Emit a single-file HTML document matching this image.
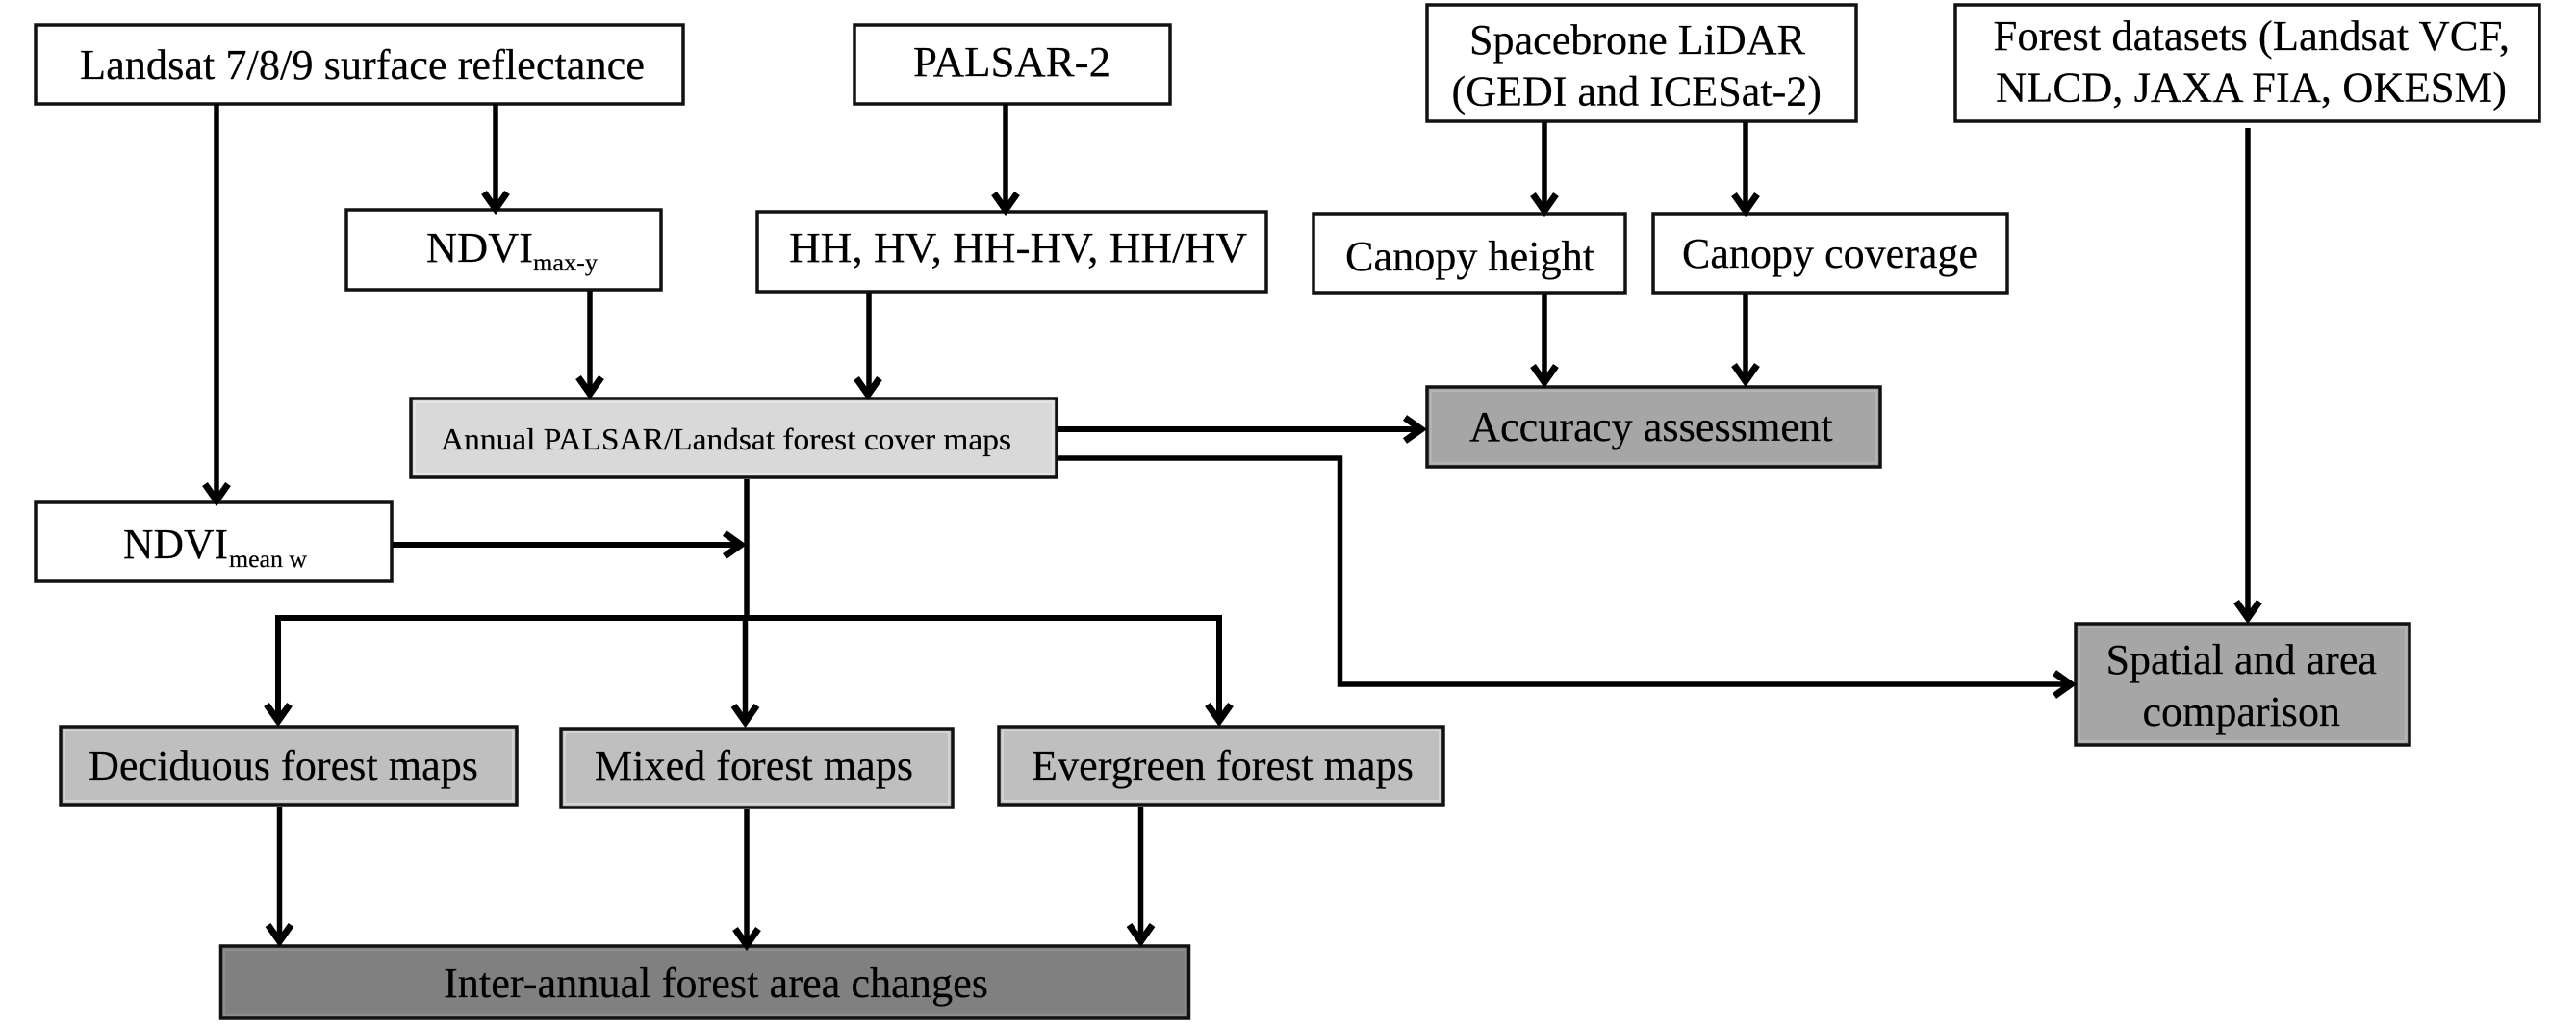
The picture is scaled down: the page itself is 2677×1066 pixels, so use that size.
<!DOCTYPE html>
<html><head><meta charset="utf-8"><title>Forest mapping workflow</title>
<style>
html,body{margin:0;padding:0;background:#fff;width:2677px;height:1066px;overflow:hidden}
svg{display:block}
text{font-family:"Liberation Serif",serif;fill:#000;font-size:44px;stroke:#000;stroke-width:.2}
.b{stroke:#111;stroke-width:3.5;fill:#fff}
.r{fill:none;stroke:#e8e8e8;stroke-width:1.5}
.l{stroke:#000;stroke-width:5.5;fill:none}
.t{stroke:#000;stroke-width:6;fill:none}
.a{stroke:#000;stroke-width:7;fill:none;stroke-linejoin:miter}
</style></head><body>
<svg width="2677" height="1066" viewBox="0 0 2677 1066" xmlns="http://www.w3.org/2000/svg">
<rect width="2677" height="1066" fill="#fff"/>

<!-- boxes -->
<rect class="b" x="37" y="26" width="673" height="82"/>
<rect class="b" x="888" y="26" width="328" height="82"/>
<rect class="b" x="1483" y="5" width="446" height="121"/>
<rect class="b" x="2032" y="5" width="607" height="121"/>
<rect class="b" x="360" y="218" width="327" height="83"/>
<rect class="b" x="787" y="220" width="529" height="83"/>
<rect class="b" x="1365" y="222" width="324" height="82"/>
<rect class="b" x="1718" y="222" width="368" height="82"/>
<rect class="b" x="37" y="522" width="370" height="82"/>

<rect class="b" x="427" y="414" width="671" height="82" style="fill:#d9d9d9"/>
<rect class="r" x="431" y="418" width="663" height="74"/>
<rect class="b" x="1483" y="402" width="471" height="83" style="fill:#a6a6a6"/>
<rect class="r" x="1487" y="406" width="463" height="75" style="stroke:#b8b8b8"/>
<rect class="b" x="2157" y="648" width="347" height="126" style="fill:#a6a6a6"/>
<rect class="r" x="2161" y="652" width="339" height="118" style="stroke:#b8b8b8"/>
<rect class="b" x="63" y="755" width="474" height="81" style="fill:#bfbfbf"/>
<rect class="r" x="67" y="759" width="466" height="73" style="stroke:#dcdcdc"/>
<rect class="b" x="583" y="757" width="407" height="82" style="fill:#bfbfbf"/>
<rect class="r" x="587" y="761" width="399" height="74" style="stroke:#dcdcdc"/>
<rect class="b" x="1038" y="755" width="462" height="81" style="fill:#bfbfbf"/>
<rect class="r" x="1042" y="759" width="454" height="73" style="stroke:#dcdcdc"/>
<rect class="b" x="229.500" y="983" width="1006" height="75" style="fill:#808080"/>
<rect class="r" x="233" y="987" width="999" height="68" style="stroke:#929292"/>

<!-- connectors -->
<path class="l" d="M225 108V520"/>
<path class="l" d="M515 108V217"/>
<path class="l" d="M1045 108V218"/>
<path class="l" d="M613 302V409"/>
<path class="l" d="M903 304V410"/>
<path class="l" d="M1605 127V219"/>
<path class="l" d="M1814 127V219"/>
<path class="l" d="M1605 305V397"/>
<path class="l" d="M1814 305V396"/>
<path class="t" d="M1099 446H1477"/>
<path class="l" d="M1099 476H1392.500V711H2152"/>
<path class="l" d="M2336 133V642"/>
<path class="l" d="M776 498V640L774.500 642V750"/>
<path class="t" d="M408 566H770"/>
<path class="t" d="M289 749V642H1267V749"/>
<path class="l" d="M290.500 838V978"/>
<path class="l" d="M776 841V982"/>
<path class="l" d="M1185.500 838V978"/>

<!-- arrowheads -->
<path class="a" d="M213 503L225 520L237 503"/>
<path class="a" d="M503 200L515 217L527 200"/>
<path class="a" d="M1033 201L1045 218L1057 201"/>
<path class="a" d="M601 392L613 409L625 392"/>
<path class="a" d="M890 393L902 410L914 393"/>
<path class="a" d="M1593 202L1605 219L1617 202"/>
<path class="a" d="M1802 202L1814 219L1826 202"/>
<path class="a" d="M1593 380L1605 397L1617 380"/>
<path class="a" d="M1802 379L1814 396L1826 379"/>
<path class="a" d="M1460 434L1477 446L1460 458"/>
<path class="a" d="M2135 699L2152 711L2135 723"/>
<path class="a" d="M2324 625L2336 642L2348 625"/>
<path class="a" d="M753 554L770 566L753 578"/>
<path class="a" d="M277 732L289 749L301 732"/>
<path class="a" d="M762.500 733L774.500 750L786.500 733"/>
<path class="a" d="M1255 732L1267 749L1279 732"/>
<path class="a" d="M278.500 961L290.500 978L302.500 961"/>
<path class="a" d="M764 965L776 982L788 965"/>
<path class="a" d="M1173.500 961L1185.500 978L1197.500 961"/>

<!-- labels -->
<text x="83" y="82" textLength="587" lengthAdjust="spacingAndGlyphs">Landsat 7/8/9 surface reflectance</text>
<text x="949" y="79" textLength="205" lengthAdjust="spacingAndGlyphs">PALSAR-2</text>
<text x="443" y="272" textLength="111" lengthAdjust="spacingAndGlyphs">NDVI</text>
<text x="554" y="281" textLength="67" lengthAdjust="spacingAndGlyphs" style="font-size:25px">max-y</text>
<text x="820" y="272" textLength="476" lengthAdjust="spacingAndGlyphs">HH, HV, HH-HV, HH/HV</text>
<text x="458" y="467" textLength="593" lengthAdjust="spacingAndGlyphs" style="font-size:32px">Annual PALSAR/Landsat forest cover maps</text>
<text x="1527" y="56" textLength="349" lengthAdjust="spacingAndGlyphs">Spacebrone LiDAR</text>
<text x="1508.500" y="109.500" textLength="384.500" lengthAdjust="spacingAndGlyphs">(GEDI and ICESat-2)</text>
<text x="2071.500" y="52" textLength="536.500" lengthAdjust="spacingAndGlyphs">Forest datasets (Landsat VCF,</text>
<text x="2074" y="105.500" textLength="531" lengthAdjust="spacingAndGlyphs">NLCD, JAXA FIA, OKESM)</text>
<text x="1398" y="281" textLength="259" lengthAdjust="spacingAndGlyphs">Canopy height</text>
<text x="1748" y="278" textLength="307" lengthAdjust="spacingAndGlyphs">Canopy coverage</text>
<text x="1527" y="458" textLength="377.500" lengthAdjust="spacingAndGlyphs">Accuracy assessment</text>
<text x="2188.500" y="700" textLength="281.500" lengthAdjust="spacingAndGlyphs">Spatial and area</text>
<text x="2226.500" y="754" textLength="205.500" lengthAdjust="spacingAndGlyphs">comparison</text>
<text x="128" y="580" textLength="109" lengthAdjust="spacingAndGlyphs">NDVI</text>
<text x="238" y="589" textLength="81" lengthAdjust="spacingAndGlyphs" style="font-size:25px">mean w</text>
<text x="92" y="810" textLength="405" lengthAdjust="spacingAndGlyphs">Deciduous forest maps</text>
<text x="618" y="810" textLength="331" lengthAdjust="spacingAndGlyphs">Mixed forest maps</text>
<text x="1072" y="810" textLength="397" lengthAdjust="spacingAndGlyphs">Evergreen forest maps</text>
<text x="461" y="1036" textLength="566" lengthAdjust="spacingAndGlyphs">Inter-annual forest area changes</text>
</svg>
</body></html>
